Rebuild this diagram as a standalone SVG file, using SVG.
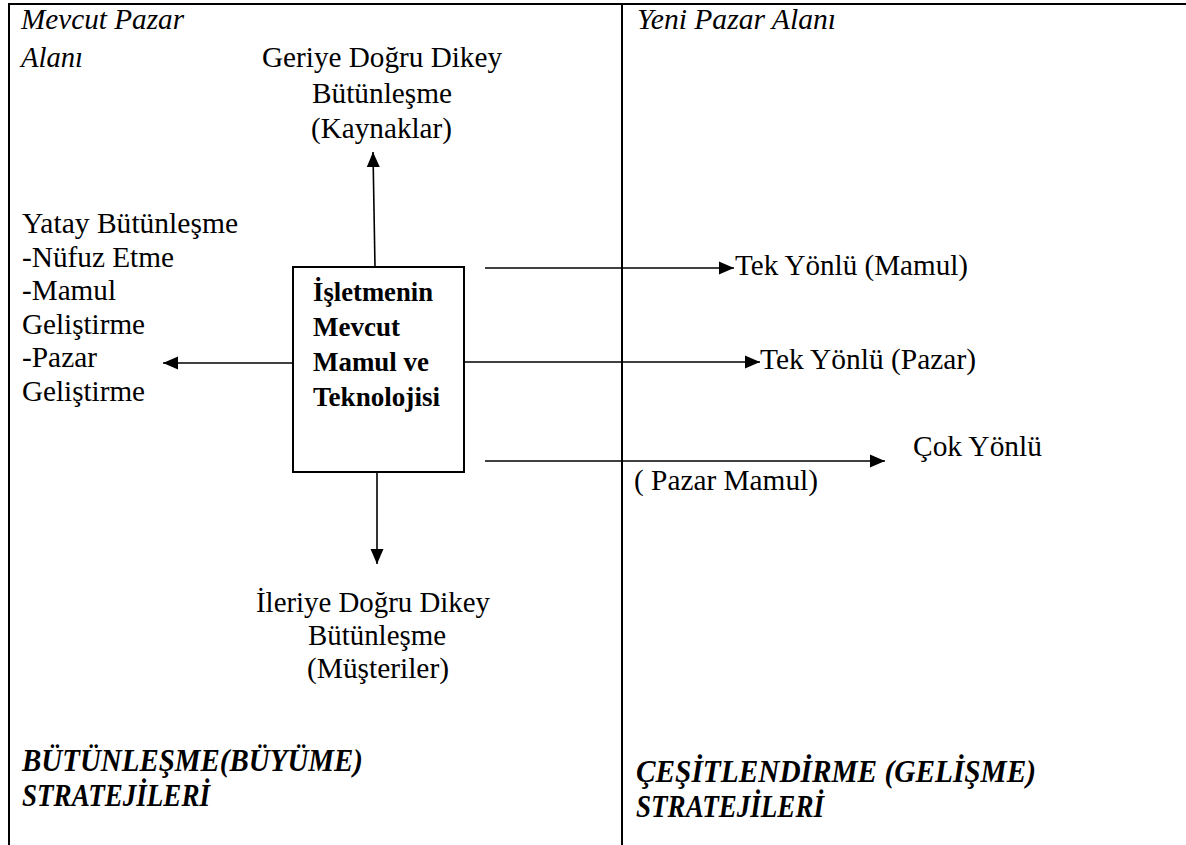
<svg xmlns="http://www.w3.org/2000/svg" width="1186" height="845" viewBox="0 0 1186 845">
  <style>
    .frame { stroke: #000; stroke-width: 2; fill: none; }
    .conn { stroke: #000; stroke-width: 1.6; fill: none; marker-end: url(#arrow); }
    .t { font-family: "Liberation Serif", "Times New Roman", serif; font-size: 29px; fill: #000; }
    .it { font-style: italic; font-size: 29px; }
    .b { font-weight: bold; font-size: 26.5px; }
    .bi { font-family: "Liberation Serif", "Times New Roman", serif; font-weight: bold; font-style: italic; font-size: 31px; fill: #000; }
  </style>
  <defs>
    <marker id="arrow" markerUnits="userSpaceOnUse" markerWidth="16" markerHeight="14" refX="15" refY="7" orient="auto">
      <path d="M0,0.5 L15,7 L0,13.5 Z" fill="#000"/>
    </marker>
  </defs>

  <rect width="1186" height="845" fill="#fff"/>

  <!-- outer frame and the divider between the two market areas -->
  <g id="frame">
    <line class="frame" x1="8" y1="4" x2="1186" y2="4"/>
    <line class="frame" x1="9" y1="3" x2="9" y2="845"/>
    <line class="frame" x1="622" y1="3" x2="622" y2="845"/>
  </g>

  <!-- area headings -->
  <g id="area-current">
    <text class="t it" x="21" y="29" textLength="163" lengthAdjust="spacingAndGlyphs">Mevcut Pazar</text>
    <text class="t it" x="21" y="67" textLength="62" lengthAdjust="spacingAndGlyphs">Alanı</text>
  </g>
  <g id="area-new">
    <text class="t it" x="637" y="29" textLength="199" lengthAdjust="spacingAndGlyphs">Yeni Pazar Alanı</text>
  </g>

  <!-- central node -->
  <g id="core">
    <rect x="293" y="267" width="171" height="205" fill="#fff" stroke="#000" stroke-width="2"/>
    <text class="t b" x="313" y="301" textLength="120" lengthAdjust="spacingAndGlyphs">İşletmenin</text>
    <text class="t b" x="313" y="336" textLength="87" lengthAdjust="spacingAndGlyphs">Mevcut</text>
    <text class="t b" x="313" y="371" textLength="116" lengthAdjust="spacingAndGlyphs">Mamul ve</text>
    <text class="t b" x="313" y="406" textLength="127" lengthAdjust="spacingAndGlyphs">Teknolojisi</text>
  </g>

  <g id="backward">
    <text class="t" x="262" y="67" textLength="240" lengthAdjust="spacingAndGlyphs">Geriye Doğru Dikey</text>
    <text class="t" x="312" y="103" textLength="140" lengthAdjust="spacingAndGlyphs">Bütünleşme</text>
    <text class="t" x="311" y="138" textLength="141" lengthAdjust="spacingAndGlyphs">(Kaynaklar)</text>
  </g>

  <g id="horizontal">
    <text class="t" x="22" y="233" textLength="216" lengthAdjust="spacingAndGlyphs">Yatay Bütünleşme</text>
    <text class="t" x="22" y="267" textLength="152" lengthAdjust="spacingAndGlyphs">-Nüfuz Etme</text>
    <text class="t" x="22" y="300" textLength="94" lengthAdjust="spacingAndGlyphs">-Mamul</text>
    <text class="t" x="22" y="334" textLength="123" lengthAdjust="spacingAndGlyphs">Geliştirme</text>
    <text class="t" x="22" y="367" textLength="75" lengthAdjust="spacingAndGlyphs">-Pazar</text>
    <text class="t" x="22" y="401" textLength="123" lengthAdjust="spacingAndGlyphs">Geliştirme</text>
  </g>

  <g id="forward">
    <text class="t" x="256" y="612" textLength="234" lengthAdjust="spacingAndGlyphs">İleriye Doğru Dikey</text>
    <text class="t" x="308" y="645" textLength="138" lengthAdjust="spacingAndGlyphs">Bütünleşme</text>
    <text class="t" x="307" y="678" textLength="142" lengthAdjust="spacingAndGlyphs">(Müşteriler)</text>
  </g>

  <g id="single-product">
    <text class="t" x="735" y="275" textLength="233" lengthAdjust="spacingAndGlyphs">Tek Yönlü (Mamul)</text>
  </g>
  <g id="single-market">
    <text class="t" x="760" y="369" textLength="216" lengthAdjust="spacingAndGlyphs">Tek Yönlü (Pazar)</text>
  </g>
  <g id="multi">
    <text class="t" x="913" y="456" textLength="129" lengthAdjust="spacingAndGlyphs">Çok Yönlü</text>
    <text class="t" x="634" y="490" textLength="184" lengthAdjust="spacingAndGlyphs">( Pazar Mamul)</text>
  </g>

  <!-- strategy group captions -->
  <g id="caption-integration">
    <text class="bi" x="22" y="771" textLength="341" lengthAdjust="spacingAndGlyphs">BÜTÜNLEŞME(BÜYÜME)</text>
    <text class="bi" x="22" y="806" textLength="188" lengthAdjust="spacingAndGlyphs">STRATEJİLERİ</text>
  </g>
  <g id="caption-diversification">
    <text class="bi" x="636" y="782" textLength="400" lengthAdjust="spacingAndGlyphs">ÇEŞİTLENDİRME (GELİŞME)</text>
    <text class="bi" x="636" y="817" textLength="188" lengthAdjust="spacingAndGlyphs">STRATEJİLERİ</text>
  </g>

  <!-- connectors -->
  <g id="connectors">
    <line class="conn" x1="375" y1="267" x2="373" y2="152"/>
    <line class="conn" x1="293" y1="363" x2="163" y2="363"/>
    <line class="conn" x1="377" y1="472" x2="377" y2="564"/>
    <line class="conn" x1="485" y1="268" x2="734" y2="268"/>
    <line class="conn" x1="464" y1="362" x2="760" y2="362"/>
    <line class="conn" x1="485" y1="461" x2="885" y2="461"/>
  </g>
</svg>
